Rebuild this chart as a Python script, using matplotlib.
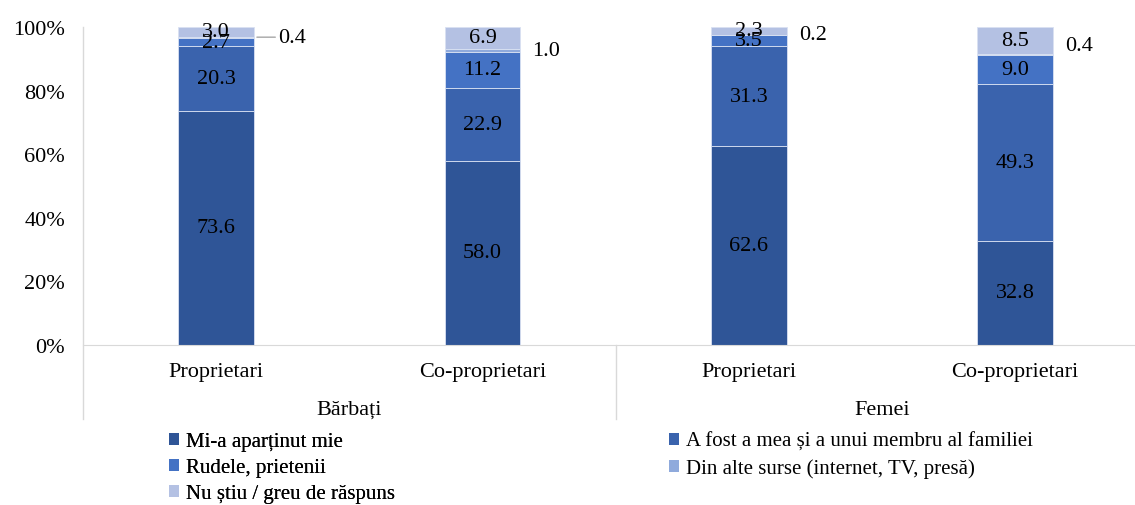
import matplotlib
matplotlib.use("Agg")
import matplotlib.pyplot as plt
from matplotlib.lines import Line2D
from matplotlib.patches import Patch
import numpy as np

plt.rcParams['font.family'] = ['Liberation Serif', 'DejaVu Serif']

# data
categories = ["Proprietari", "Co-proprietari", "Proprietari", "Co-proprietari"]
groups = ["Bărbați", "Femei"]
series_names = ["Mi-a aparținut mie",
                "A fost a mea și a unui membru al familiei",
                "Rudele, prietenii",
                "Din alte surse (internet, TV, presă)",
                "Nu știu / greu de răspuns"]
mie = [73.6, 58.0, 62.6, 32.8]
familie = [20.3, 22.9, 31.3, 49.3]
rude = [2.7, 11.2, 3.5, 9.0]
alte = [0.4, 1.0, 0.2, 0.4]
nu_stiu = [3.0, 6.9, 2.3, 8.5]
series = [mie, familie, rude, alte, nu_stiu]
colors = ["#2F5597", "#3A63AD", "#4472C4", "#8FAADC", "#B4C1E3"]

FS = 16

fig = plt.figure(figsize=(11.35, 5.06), dpi=100)
ax = fig.add_axes([83 / 1135, 1 - 346 / 506, 1 - 83 / 1135, (346 - 28) / 506])

x = np.arange(len(categories))
width = 0.285
bottom = np.zeros(len(categories))
for vals, col, name in zip(series, colors, series_names):
    vals = np.array(vals)
    ax.bar(x, vals, width, bottom=bottom, color=col, edgecolor="#D9E1F2",
           linewidth=0.6, label=name)
    for i in range(len(x)):
        yc = bottom[i] + vals[i] / 2
        if name.startswith("Din alte"):
            # small values sit outside the bar, to the right
            if i == 0:
                ax.annotate(f"{vals[i]:.1f}", xy=(x[i] + width / 2, yc),
                            xytext=(x[i] + width / 2 + 0.09, yc),
                            va="center", ha="left", fontsize=FS,
                            arrowprops=dict(arrowstyle="-", color="#A6A6A6", lw=1,
                                            shrinkA=0, shrinkB=2))
            else:
                ax.text(x[i] + width / 2 + 0.045, yc + (3 if i == 3 else 0),
                        f"{vals[i]:.1f}", va="center", ha="left", fontsize=FS)
        else:
            ax.text(x[i], yc, f"{vals[i]:.1f}", va="center", ha="center", fontsize=FS)
    bottom += vals

ax.set_ylim(0, 100)
ax.set_xlim(-0.5, 3.45)
ax.set_yticks(np.arange(0, 101, 20))
ax.set_yticklabels([f"{v}%" for v in range(0, 101, 20)], fontsize=FS)
ax.set_xticks([])
ax.tick_params(axis="y", length=0, pad=13)
for s in ["top", "right", "left"]:
    ax.spines[s].set_visible(False)
ax.spines["bottom"].set_color("#D9D9D9")

# left axis line extending below, and group separator
ax.add_line(Line2D([-0.5, -0.5], [100, -23.3], color="#D9D9D9", lw=1, clip_on=False))
ax.add_line(Line2D([1.5, 1.5], [0, -23.3], color="#D9D9D9", lw=1, clip_on=False))

for i, c in enumerate(categories):
    ax.text(x[i], -8.3, c, ha="center", va="center", fontsize=FS)
for g, gi in enumerate(groups):
    ax.text(0.5 + 2 * g, -20.3, gi, ha="center", va="center", fontsize=FS)

handles = [Patch(facecolor=c) for c in colors]
leg_kw = dict(loc="upper left", frameon=False, fontsize=15, handlelength=0.5,
              handleheight=0.5, handletextpad=0.3, labelspacing=0.34,
              borderpad=0, borderaxespad=0)
leg1 = fig.legend([handles[0], handles[2], handles[4]],
                  [series_names[0], series_names[2], series_names[4]],
                  bbox_to_anchor=(169 / 1135, 1 - 433 / 506), **leg_kw)
leg2 = fig.legend([handles[1], handles[3]],
                  [series_names[1], series_names[3]],
                  bbox_to_anchor=(669 / 1135, 1 - 433 / 506), **leg_kw)
fig.add_artist(leg1)

fig.savefig("out.png", dpi=100)
